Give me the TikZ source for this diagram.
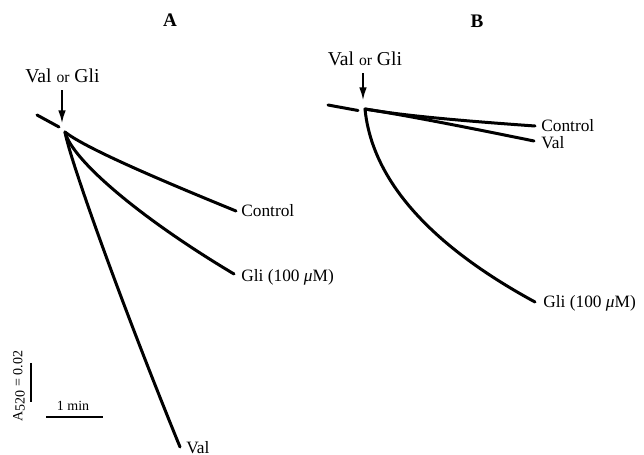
\documentclass[tikz,border=0pt]{standalone}
\usepackage{fontspec}
\setmainfont{Liberation Serif}
\usetikzlibrary{arrows.meta}

\begin{document}
\begin{tikzpicture}[x=0.6pt, y=-0.6pt,
  trace/.style={line width=1.8pt, line cap=round},
  bar/.style={line width=1pt},
  lbl/.style={font=\fontsize{10.4}{12}\selectfont, inner sep=0pt, anchor=base west},
  scl/.style={font=\fontsize{8.4}{10}\selectfont, inner sep=0pt},
  ttl/.style={font=\fontsize{11.5}{13}\selectfont\bfseries, inner sep=0pt, anchor=base},
  trig/.style={font=\fontsize{11.8}{14}\selectfont, inner sep=0pt, anchor=base},
  addarrow/.style={line width=0.9pt, shorten <=4pt, -{Latex[length=7.5pt,width=4.5pt]}}]
  \useasboundingbox (0,0) rectangle (644,455);

  % panel A
  \node[ttl] (titleA) at (170,27) {A};
  \node[trig] (trigA) at (62.5,83) {Val {\fontsize{9.4}{11}\selectfont or} Gli};
  \coordinate (tipA) at (62,123);
  \draw[addarrow] (trigA.south -| tipA) -- (tipA);
  \coordinate (preA) at (37,115);
  \coordinate (preAend) at (59,127);
  \draw[trace] (preA) -- (preAend);
  \coordinate (a0) at (65,132);
  \coordinate (aCtl) at (236,211);
  \coordinate (aGli) at (234,274);
  \coordinate (aVal) at (180,447);
  \draw[trace] (a0) .. controls (85,148) and (160,180) .. (aCtl);
  \draw[trace] (a0) .. controls (72,160) and (140,218) .. (aGli);
  \draw[trace] (a0) .. controls (70,160) and (120,300) .. (aVal);
  \node[lbl] (ctlA) at (241,216.5) {Control};
  \node[lbl] (gliA) at (241,282) {Gli (100 \textit{μ}M)};
  \node[lbl] (valA) at (186,453) {Val};

  % scale bars
  \coordinate (vbTop) at (31,363);
  \coordinate (vbBot) at (31,402);
  \draw[bar] (vbTop) -- (vbBot);
  \node[scl, rotate=90] (absLbl) at (19,386) {A\raisebox{-0.35ex}{520} = 0.02};
  \coordinate (hbL) at (46,417);
  \coordinate (hbR) at (103,417);
  \draw[bar] (hbL) -- (hbR);
  \node[scl, anchor=base] (minLbl) at (73,410) {1 min};

  % panel B
  \node[ttl] (titleB) at (477,28) {B};
  \node[trig] (trigB) at (365,66) {Val {\fontsize{9.4}{11}\selectfont or} Gli};
  \coordinate (tipB) at (363,100);
  \draw[addarrow] (trigB.south -| tipB) -- (tipB);
  \coordinate (preB) at (328,105);
  \coordinate (preBend) at (358,110.5);
  \draw[trace] (preB) -- (preBend);
  \coordinate (b0) at (365,109);
  \coordinate (bCtl) at (535,126);
  \coordinate (bVal) at (534,141);
  \coordinate (bGli) at (535,302);
  \draw[trace] (b0) .. controls (400,115) and (450,120) .. (bCtl);
  \draw[trace] (b0) .. controls (410,116) and (470,128) .. (bVal);
  \draw[trace] (b0) .. controls (372,180) and (430,245) .. (bGli);
  \node[lbl] (ctlB) at (541,131.5) {Control};
  \node[lbl] (valB) at (541,149) {Val};
  \node[lbl] (gliB) at (543,308) {Gli (100 \textit{μ}M)};
\end{tikzpicture}
\end{document}
